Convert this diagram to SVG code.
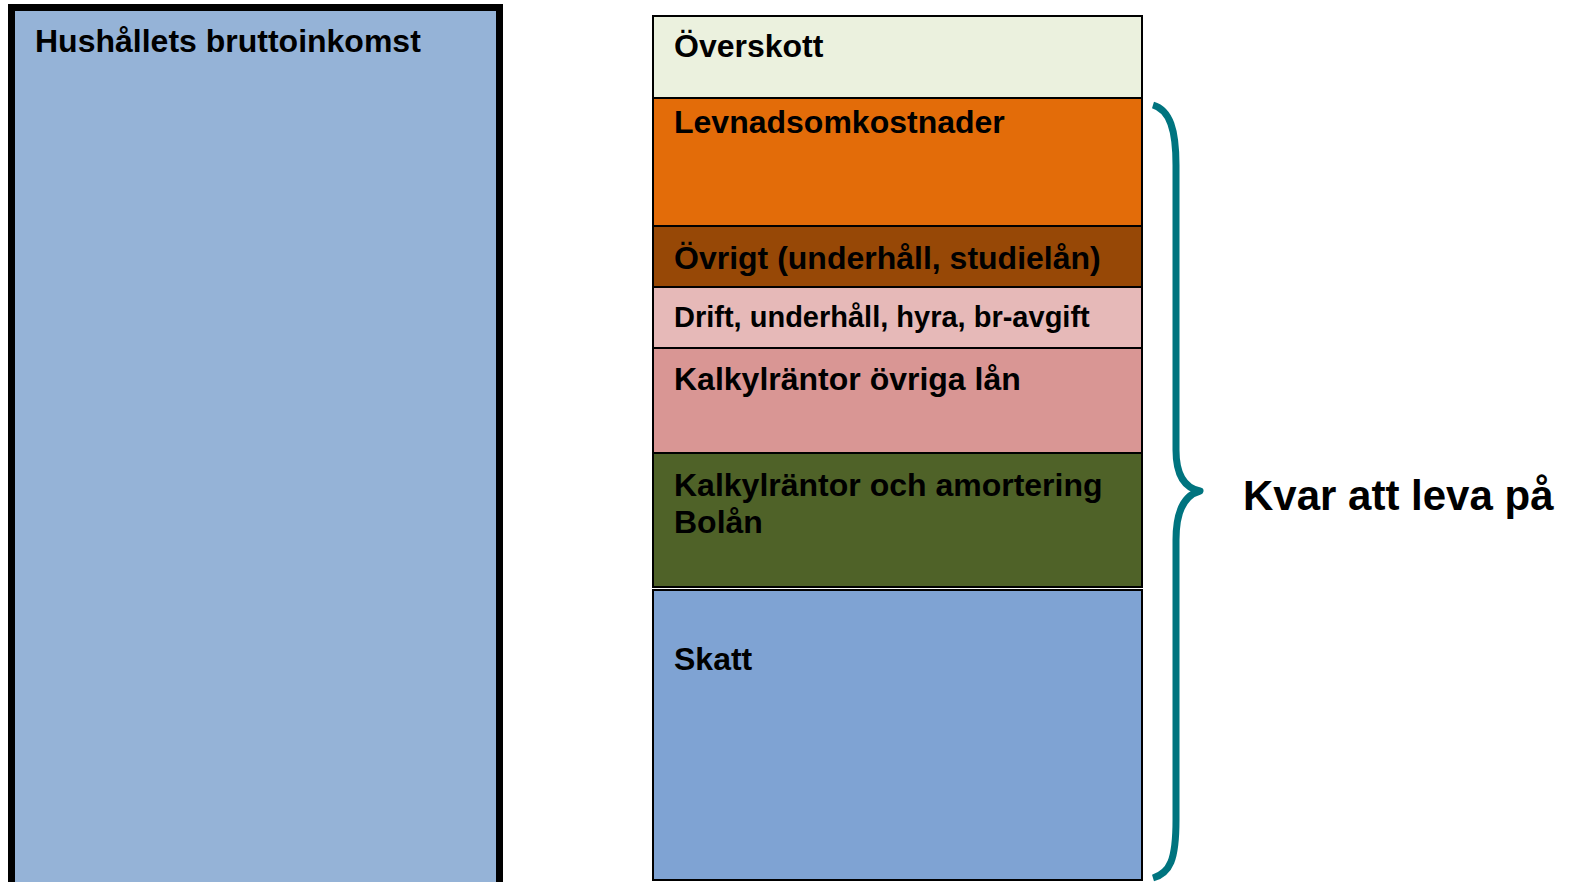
<svg xmlns="http://www.w3.org/2000/svg" width="1575" height="882" viewBox="0 0 1575 882">
<style>
text{font-family:"Liberation Sans",Arial,sans-serif;font-weight:bold;fill:#000;}
.t{font-size:32px;}
.band{stroke:#000;stroke-width:2;}
</style>
<rect width="1575" height="882" fill="#fff"/>
<g id="brutto">
<rect x="11.5" y="7.5" width="488" height="900" fill="#95B3D7" stroke="#000" stroke-width="7"/>
<text class="t" x="35" y="52">Hushållets bruttoinkomst</text>
</g>
<g id="overskott">
<rect class="band" x="653" y="16" width="489" height="82" fill="#EBF1DE"/>
<text class="t" x="674" y="57">Överskott</text>
</g>
<g id="levnad">
<rect class="band" x="653" y="98" width="489" height="128" fill="#E36C09"/>
<text class="t" x="674" y="133">Levnadsomkostnader</text>
</g>
<g id="ovrigt">
<rect class="band" x="653" y="226" width="489" height="61" fill="#974806"/>
<text class="t" x="674" y="269">Övrigt (underhåll, studielån)</text>
</g>
<g id="drift">
<rect class="band" x="653" y="287" width="489" height="61" fill="#E6B9B8"/>
<text x="674" y="327" font-size="29">Drift, underhåll, hyra, br-avgift</text>
</g>
<g id="ovrigalan">
<rect class="band" x="653" y="348" width="489" height="105" fill="#D99694"/>
<text class="t" x="674" y="390">Kalkylräntor övriga lån</text>
</g>
<g id="bolan">
<rect class="band" x="653" y="453" width="489" height="134" fill="#4F6228"/>
<text class="t" x="674" y="496">Kalkylräntor och amortering</text>
<text class="t" x="674" y="533">Bolån</text>
</g>
<g id="skatt">
<rect class="band" x="653" y="590" width="489" height="290" fill="#7FA3D3"/>
<text class="t" x="674" y="670">Skatt</text>
</g>
<g id="connectors">
<path d="M1153,105 C1170,110 1176,130 1176,165 L1176,450 C1176,475 1185,488 1200,491 C1185,495 1176,510 1176,540 L1176,820 C1176,860 1170,873 1153,878" fill="none" stroke="#00747F" stroke-width="7" stroke-linejoin="round"/>
</g>
<g id="kvar">
<text x="1243" y="510" font-size="42">Kvar att leva på</text>
</g>
</svg>
